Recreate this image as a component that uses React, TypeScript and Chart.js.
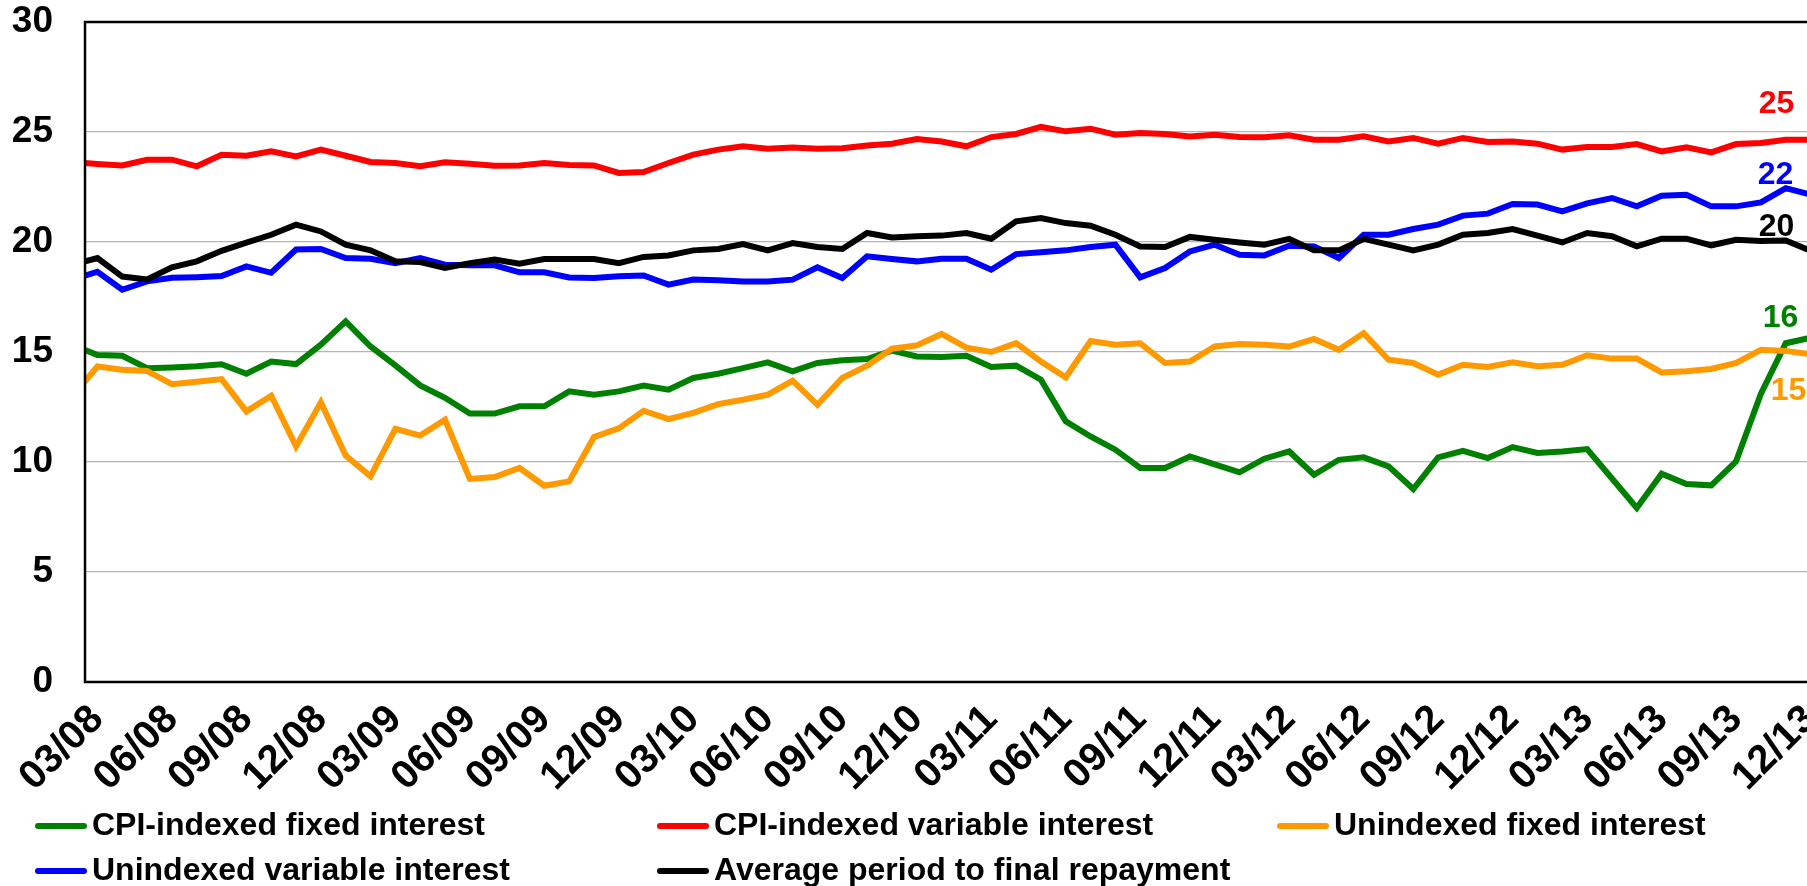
import React, { useEffect, useRef } from "react";
import { Chart, registerables } from "chart.js";

Chart.register(...registerables);

const FONT = '"Liberation Sans", Arial, Helvetica, sans-serif';

// Monthly categories (02/08 is just left of the visible plot, 12/13 at the cut right edge)
const months = [
  "02/08", "03/08", "04/08", "05/08", "06/08", "07/08", "08/08", "09/08", "10/08", "11/08", "12/08",
  "01/09", "02/09", "03/09", "04/09", "05/09", "06/09", "07/09", "08/09", "09/09", "10/09", "11/09", "12/09",
  "01/10", "02/10", "03/10", "04/10", "05/10", "06/10", "07/10", "08/10", "09/10", "10/10", "11/10", "12/10",
  "01/11", "02/11", "03/11", "04/11", "05/11", "06/11", "07/11", "08/11", "09/11", "10/11", "11/11", "12/11",
  "01/12", "02/12", "03/12", "04/12", "05/12", "06/12", "07/12", "08/12", "09/12", "10/12", "11/12", "12/12",
  "01/13", "02/13", "03/13", "04/13", "05/13", "06/13", "07/13", "08/13", "09/13", "10/13", "11/13", "12/13",
];

// Tick labels shown on the x axis
const xTickLabels = [
  "03/08", "06/08", "09/08", "12/08", "03/09", "06/09", "09/09", "12/09",
  "03/10", "06/10", "09/10", "12/10", "03/11", "06/11", "09/11", "12/11",
  "03/12", "06/12", "09/12", "12/12", "03/13", "06/13", "09/13", "12/13",
];

const yTicks = [0, 5, 10, 15, 20, 25, 30];

const cpiFixed = [
  15.32, 14.86, 14.83, 14.26, 14.3, 14.35, 14.44, 14.01, 14.57, 14.45,
  15.33, 16.39, 15.25, 14.39, 13.48, 12.92, 12.2, 12.2, 12.53, 12.53,
  13.21, 13.06, 13.21, 13.47, 13.29, 13.82, 14.01, 14.27, 14.53, 14.12,
  14.5, 14.62, 14.68, 15.06, 14.8, 14.77, 14.83, 14.32, 14.38, 13.74,
  11.85, 11.16, 10.56, 9.73, 9.73, 10.25, 9.89, 9.53, 10.15, 10.48,
  9.42, 10.1, 10.21, 9.8, 8.77, 10.21, 10.51, 10.18, 10.68, 10.41,
  10.48, 10.59, 9.25, 7.91, 9.47, 9.0, 8.94, 10.03, 13.1, 15.4,
  15.65,
];

const cpiVariable = [
  23.63, 23.55, 23.48, 23.74, 23.74, 23.44, 23.97, 23.92, 24.12, 23.89,
  24.2, 23.92, 23.64, 23.59, 23.44, 23.62, 23.56, 23.47, 23.48, 23.59,
  23.5, 23.48, 23.14, 23.18, 23.59, 23.97, 24.2, 24.35, 24.24, 24.3,
  24.24, 24.26, 24.39, 24.47, 24.68, 24.57, 24.35, 24.77, 24.91, 25.23,
  25.03, 25.15, 24.88, 24.95, 24.91, 24.8, 24.88, 24.77, 24.76, 24.85,
  24.65, 24.65, 24.8, 24.57, 24.73, 24.47, 24.73, 24.55, 24.57, 24.47,
  24.2, 24.32, 24.32, 24.45, 24.12, 24.3, 24.07, 24.45, 24.5, 24.65,
  24.65,
];

const unindexedFixed = [
  13.0, 14.34, 14.19, 14.14, 13.54, 13.65, 13.77, 12.3, 13.01, 10.71,
  12.71, 10.29, 9.35, 11.51, 11.2, 11.92, 9.23, 9.32, 9.73, 8.92,
  9.12, 11.14, 11.53, 12.33, 11.95, 12.23, 12.63, 12.83, 13.06, 13.7,
  12.6, 13.82, 14.38, 15.15, 15.3, 15.82, 15.2, 15.0, 15.4, 14.57,
  13.85, 15.5, 15.33, 15.4, 14.5, 14.57, 15.25, 15.36, 15.33, 15.25,
  15.59, 15.1, 15.86, 14.65, 14.5, 13.97, 14.42, 14.32, 14.53, 14.35,
  14.42, 14.85, 14.7, 14.7, 14.07, 14.12, 14.23, 14.5, 15.1, 15.05,
  14.9,
];

const unindexedVariable = [
  18.3, 18.65, 17.83, 18.21, 18.37, 18.4, 18.45, 18.89, 18.6, 19.66,
  19.68, 19.27, 19.24, 19.04, 19.27, 18.97, 18.94, 18.94, 18.62, 18.62,
  18.39, 18.36, 18.44, 18.48, 18.06, 18.29, 18.26, 18.21, 18.21, 18.29,
  18.85, 18.36, 19.35, 19.23, 19.12, 19.24, 19.24, 18.74, 19.45, 19.53,
  19.62, 19.77, 19.88, 18.39, 18.82, 19.57, 19.88, 19.42, 19.39, 19.83,
  19.8, 19.27, 20.33, 20.33, 20.59, 20.79, 21.2, 21.29, 21.73, 21.7,
  21.39, 21.76, 22.0, 21.62, 22.1, 22.15, 21.62, 21.62, 21.8, 22.45,
  22.15,
];

const avgPeriod = [
  18.97, 19.27, 18.43, 18.3, 18.85, 19.12, 19.6, 19.97, 20.33, 20.79,
  20.48, 19.88, 19.62, 19.12, 19.09, 18.82, 19.04, 19.2, 19.01, 19.23,
  19.23, 19.23, 19.04, 19.32, 19.39, 19.62, 19.68, 19.91, 19.62, 19.95,
  19.77, 19.68, 20.41, 20.21, 20.26, 20.29, 20.41, 20.15, 20.94, 21.09,
  20.86, 20.74, 20.33, 19.8, 19.77, 20.23, 20.1, 19.98, 19.88, 20.14,
  19.62, 19.62, 20.14, 19.88, 19.62, 19.88, 20.33, 20.41, 20.59, 20.29,
  19.98, 20.41, 20.26, 19.8, 20.15, 20.15, 19.85, 20.1, 20.05, 20.07,
  19.6,
];

const seriesNames = [
  "CPI-indexed fixed interest",
  "CPI-indexed variable interest",
  "Unindexed fixed interest",
  "Unindexed variable interest",
  "Average period to final repayment",
];
const seriesValues = [cpiFixed, cpiVariable, unindexedFixed, unindexedVariable, avgPeriod];
const seriesColors = ["#008000", "#FF0000", "#FF9900", "#0000FF", "#000000"];

// styling / layout (not data)
const endLabelOffsets = [
  { dx: -30, dy: -20 },
  { dx: -34, dy: -36 },
  { dx: -22, dy: 37 },
  { dx: -35, dy: -20 },
  { dx: -34, dy: -24 },
];
const legendSlots = [
  { x: 35, y: 826 },
  { x: 657, y: 826 },
  { x: 1277, y: 826 },
  { x: 35, y: 871 },
  { x: 657, y: 871 },
];

const CANVAS_W = 1830;
const CANVAS_H = 886;

export default function App() {
  const ref = useRef<HTMLCanvasElement | null>(null);

  useEffect(() => {
    const canvas = ref.current;
    if (!canvas) return;
    const tickValues = xTickLabels.map((l) => months.indexOf(l));
    const last = months.length - 1;

    const decor = {
      id: "decor",
      afterDatasetsDraw(chart: any) {
        const { ctx, chartArea: a } = chart;
        ctx.save();
        ctx.strokeStyle = "#000";
        ctx.lineWidth = 2.5;
        ctx.strokeRect(a.left, a.top, a.right - a.left, a.bottom - a.top);
        ctx.restore();
      },
      afterDraw(chart: any) {
        const { ctx } = chart;
        const xs = chart.scales.x;
        const ys = chart.scales.y;
        ctx.save();
        ctx.font = `bold 32px ${FONT}`;
        ctx.textAlign = "center";
        ctx.textBaseline = "middle";
        seriesValues.forEach((vals, k) => {
          const v = vals[last];
          const off = endLabelOffsets[k];
          ctx.fillStyle = seriesColors[k];
          ctx.fillText(String(Math.round(v)), xs.getPixelForValue(last) + off.dx, ys.getPixelForValue(v) + off.dy);
        });
        ctx.textAlign = "left";
        seriesNames.forEach((name, k) => {
          const s = legendSlots[k];
          ctx.strokeStyle = seriesColors[k];
          ctx.lineWidth = 6;
          ctx.lineCap = "round";
          ctx.beginPath();
          ctx.moveTo(s.x + 3, s.y);
          ctx.lineTo(s.x + 49, s.y);
          ctx.stroke();
          ctx.fillStyle = "#000";
          ctx.fillText(name, s.x + 57, s.y);
        });
        ctx.restore();
      },
    };

    const chart = new Chart(canvas, {
      type: "line",
      data: {
        datasets: seriesNames.map((name, k) => ({
          label: name,
          data: seriesValues[k].map((v, i) => ({ x: i, y: v })),
          borderColor: seriesColors[k],
          backgroundColor: seriesColors[k],
          borderWidth: 6,
          pointRadius: 0,
          tension: 0,
          fill: false,
          clip: 0,
          order: seriesNames.length - k,
        })),
      },
      options: {
        animation: false,
        responsive: false,
        devicePixelRatio: 1,
        events: [],
        layout: { padding: { left: 0, right: CANVAS_W - 1823, top: 22, bottom: 0 } },
        plugins: { legend: { display: false }, tooltip: { enabled: false } },
        scales: {
          x: {
            type: "linear",
            min: 0.5,
            max: months.length - 0.5,
            afterBuildTicks: (s: any) => {
              s.ticks = tickValues.map((v) => ({ value: v }));
            },
            afterFit: (s: any) => {
              s.height = CANVAS_H - 682;
              s.paddingLeft = 0;
              s.paddingRight = 0;
            },
            grid: { display: false, drawTicks: false },
            border: { display: false },
            ticks: {
              autoSkip: false,
              minRotation: 45,
              maxRotation: 45,
              padding: 14,
              color: "#000",
              font: { family: FONT, size: 40, weight: "bold" },
              callback: (v: any) => months[v as number] ?? "",
            },
          },
          y: {
            min: 0,
            max: 30,
            afterBuildTicks: (s: any) => {
              s.ticks = yTicks.map((v) => ({ value: v }));
            },
            afterFit: (s: any) => {
              s.width = 85;
              s.paddingTop = 0;
              s.paddingBottom = 0;
            },
            grid: { color: "#b4b4b4", lineWidth: 1.2, drawTicks: false },
            border: { display: false },
            ticks: {
              padding: 32,
              color: "#000",
              font: { family: FONT, size: 37, weight: "bold" },
            },
          },
        },
      } as any,
      plugins: [decor],
    });
    return () => chart.destroy();
  }, []);

  return (
    <div
      style={{
        position: "fixed",
        left: 0,
        top: 0,
        width: 1807,
        height: 886,
        overflow: "hidden",
        background: "#fff",
      }}
    >
      <canvas ref={ref} width={CANVAS_W} height={CANVAS_H} style={{ width: CANVAS_W, height: CANVAS_H, display: "block" }} />
    </div>
  );
}
